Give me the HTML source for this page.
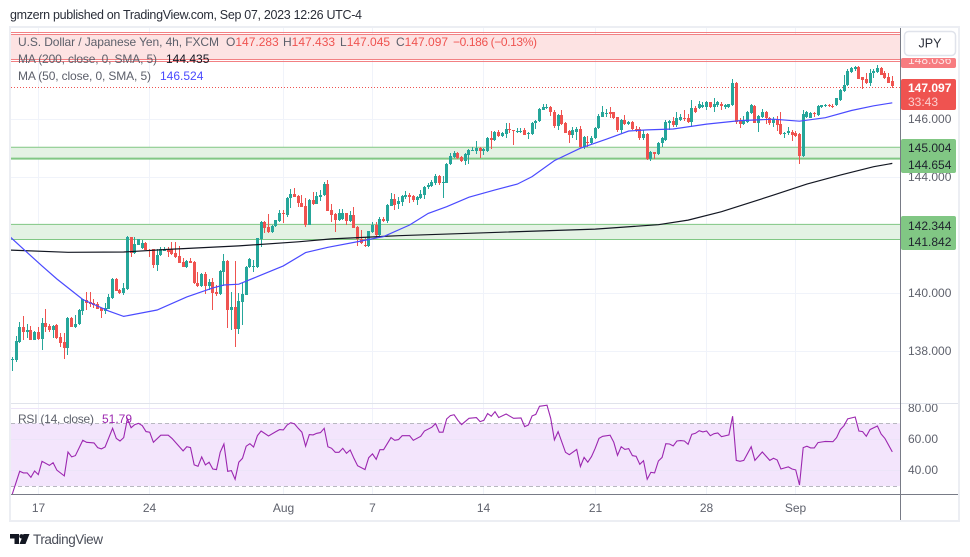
<!DOCTYPE html>
<html lang="en">
<head>
<meta charset="utf-8">
<title>USD/JPY 4h chart</title>
<style>
html,body{margin:0;padding:0;background:#fff;width:970px;height:557px;overflow:hidden}
svg{display:block;position:absolute;left:0;top:0}
text{font-family:"Liberation Sans",sans-serif}
.leg{font-size:12px;fill:#5d606b}
.axis{font-size:12px;fill:#5f626d}
.tag{font-size:12px;fill:#1e222d}
</style>
</head>
<body>
<svg id="chart" width="970" height="557" viewBox="0 0 970 557" xmlns="http://www.w3.org/2000/svg">
  <defs>
    <clipPath id="mainClip"><rect x="11" y="28" width="889" height="375"/></clipPath>
    <clipPath id="rsiClip"><rect x="11" y="404" width="889" height="90"/></clipPath>
    <clipPath id="axisClip"><rect x="901" y="28" width="58" height="375"/></clipPath>
    <clipPath id="rsiAxisClip"><rect x="901" y="404" width="58" height="90"/></clipPath>
    <clipPath id="tagClip"><rect x="901" y="59" width="58" height="10"/></clipPath>
  </defs>

  <text x="10" y="19" font-size="12.5" fill="#2a2e39" textLength="352" lengthAdjust="spacing">gmzern published on TradingView.com, Sep 07, 2023 12:26 UTC-4</text>

  <rect x="10" y="27" width="949" height="494" fill="#fff" stroke="#eceef3" stroke-width="2"/>

  <g id="grid"></g>
  <g id="zones" clip-path="url(#mainClip)"></g>
  <g id="candles" clip-path="url(#mainClip)"></g>
  <g id="mas" clip-path="url(#mainClip)"></g>
  <g id="rsi"></g>

  <line x1="11" x2="958" y1="403.5" y2="403.5" stroke="#e0e3eb" stroke-width="1"/>
  <line x1="11" x2="958" y1="494.5" y2="494.5" stroke="#787b86" stroke-width="1"/>
  <line x1="900.5" x2="900.5" y1="28" y2="520" stroke="#787b86" stroke-width="1"/>

  <g id="priceAxis" clip-path="url(#axisClip)"></g>
  <g id="rsiAxis" clip-path="url(#rsiAxisClip)"></g>
  <g id="timeAxis"></g>

  <g>
    <text class="leg" x="18" y="46" textLength="201" lengthAdjust="spacing">U.S. Dollar / Japanese Yen, 4h, FXCM</text>
    <text class="leg" x="226" y="46">O<tspan fill="#ef5350">147.283</tspan></text>
    <text class="leg" x="283" y="46">H<tspan fill="#ef5350">147.433</tspan></text>
    <text class="leg" x="340" y="46">L<tspan fill="#ef5350">147.045</tspan></text>
    <text class="leg" x="396" y="46">C<tspan fill="#ef5350">147.097</tspan></text>
    <text x="453" y="46" font-size="12" fill="#ef5350" textLength="84" lengthAdjust="spacing">−0.186 (−0.13%)</text>
    <text class="leg" x="18" y="63" textLength="139" lengthAdjust="spacing">MA (200, close, 0, SMA, 5)</text>
    <text x="166" y="63" font-size="12" fill="#131722">144.435</text>
    <text class="leg" x="18" y="80" textLength="133" lengthAdjust="spacing">MA (50, close, 0, SMA, 5)</text>
    <text x="160" y="80" font-size="12" fill="#4a4aff">146.524</text>
    <text class="leg" x="18" y="423" textLength="76" lengthAdjust="spacing">RSI (14, close)</text>
    <text x="102" y="423" font-size="12" fill="#9c27b0">51.79</text>
  </g>

  <g>
    <rect x="904.5" y="31.5" width="51" height="24" rx="4" fill="#fff" stroke="#e0e3eb" stroke-width="1.5"/>
    <text x="930" y="47.5" font-size="12.5" text-anchor="middle" fill="#2a2e39">JPY</text>
  </g>

  <g>
    <path d="M10 534h9v10h-4.500v-5.500H10zM19.500 544l4-10h6l-4 10z" fill="#131722"/>
    <circle cx="21.500" cy="536.300" r="2.200" fill="#131722"/>
    <text x="33" y="544" font-size="13.500" fill="#4a4e59" textLength="70" lengthAdjust="spacing">TradingView</text>
  </g>
</svg>

<script>
// ----- candle data (USD/JPY prices) -----
const opens = [
137.66,137.66,138.29,138.80,138.63,138.69,138.36,138.62,138.39,138.93,
138.84,138.69,138.87,138.45,138.28,138.08,139.10,138.79,138.88,139.36,
139.72,139.65,139.63,139.60,139.44,139.34,139.43,139.80,140.45,140.07,
139.95,140.10,141.89,141.34,141.63,141.53,141.70,141.45,141.47,140.93,
141.26,141.43,141.47,141.48,141.33,141.24,141.03,140.86,141.07,141.03,
140.32,140.21,140.62,140.21,140.35,140.00,139.92,140.70,141.08,139.38,
139.48,138.74,139.67,139.91,140.85,140.86,140.87,141.83,142.42,142.23,
142.06,142.26,142.45,142.71,142.66,143.23,143.38,143.30,143.06,142.96,
142.31,143.17,143.05,143.29,143.36,143.72,142.83,142.69,142.49,142.51,
142.72,142.46,142.66,142.23,141.83,141.62,141.57,142.07,142.32,141.97,
142.52,142.46,142.98,143.21,143.04,143.11,143.28,143.35,143.31,143.18,
143.25,143.35,143.61,143.66,143.76,144.00,143.76,143.77,144.40,144.65,
144.79,144.65,144.52,144.73,144.89,144.87,144.96,144.87,144.87,145.31,
145.24,145.53,145.38,145.45,145.62,145.59,145.53,145.53,145.57,145.44,
145.45,145.82,145.88,146.29,146.37,146.39,146.19,145.73,146.11,145.83,
145.54,145.42,145.53,145.62,144.99,145.16,145.13,145.30,145.64,146.05,
146.14,146.19,146.19,146.02,145.57,145.94,145.80,145.86,145.62,145.62,
145.30,145.45,144.58,144.83,144.75,145.15,145.24,145.84,145.90,145.75,
145.93,146.01,146.00,145.87,146.34,146.34,146.39,146.37,146.54,146.39,
146.44,146.50,146.37,146.39,146.45,147.22,145.90,145.79,145.87,146.16,
146.43,145.84,146.02,146.22,146.01,145.82,145.97,145.81,145.45,145.47,
145.53,145.47,145.45,144.69,146.05,146.01,146.16,146.10,146.39,146.41,
146.45,146.43,146.45,146.62,146.94,147.14,147.60,147.69,147.75,147.40,
147.33,147.20,147.54,147.60,147.73,147.54,147.40,147.283];

const highs = [
137.75,138.49,138.95,139.17,138.90,138.83,138.67,138.78,139.10,139.41,
138.90,138.87,138.90,138.58,138.58,139.15,139.15,139.21,139.40,139.77,
139.99,140.00,139.77,139.67,139.44,139.61,139.92,140.48,140.48,140.12,
140.30,141.92,141.91,141.91,141.84,141.80,141.74,141.48,141.50,141.50,
141.56,141.56,141.54,141.72,141.74,141.59,141.16,141.10,141.16,141.06,
140.70,140.64,140.70,140.46,140.48,140.24,140.76,141.31,141.10,140.00,
141.08,139.98,140.30,140.88,141.18,141.10,141.87,142.45,142.46,142.69,
142.31,142.50,142.83,142.83,143.29,143.55,143.58,143.35,143.35,143.23,
143.20,143.46,143.46,143.52,143.80,143.86,143.04,142.74,142.85,142.85,
142.74,142.81,142.92,142.26,142.14,141.91,142.12,142.40,142.43,142.58,
142.57,143.03,143.41,143.38,143.27,143.35,143.49,143.40,143.35,143.31,
143.52,143.64,143.76,143.87,144.07,144.04,144.00,144.44,144.81,144.87,
144.82,144.69,144.81,144.92,144.99,145.20,144.99,144.97,145.35,145.55,
145.55,145.57,145.53,145.83,145.82,145.59,145.67,145.67,145.67,145.53,
145.86,145.93,146.34,146.50,146.49,146.43,146.26,146.14,146.26,145.85,
145.57,145.68,145.70,145.73,145.38,145.38,145.38,145.70,146.14,146.40,
146.30,146.37,146.22,146.05,145.96,146.11,145.89,145.89,145.73,145.70,
145.59,145.47,144.87,144.83,145.18,145.36,145.93,145.93,146.02,146.22,
146.14,146.27,146.14,146.62,146.41,146.59,146.56,146.59,146.56,146.70,
146.58,146.56,146.48,146.50,147.36,147.25,145.99,146.07,146.24,146.50,
146.45,146.10,146.30,146.24,146.05,146.02,146.07,146.22,145.53,145.68,
145.59,145.56,145.47,146.28,146.25,146.21,146.22,146.44,146.46,146.48,
146.47,146.50,146.70,146.99,147.48,147.68,147.77,147.80,147.80,147.42,
147.56,147.68,147.68,147.83,147.77,147.63,147.56,147.433];

const lows = [
137.26,137.60,138.23,138.35,138.40,138.35,138.35,138.35,138.00,138.63,
138.63,138.40,138.38,138.12,137.70,137.83,138.78,138.77,138.87,139.21,
139.38,139.47,139.44,139.40,139.12,139.24,139.40,139.75,140.02,139.92,
139.90,140.07,141.22,141.31,141.61,141.50,141.44,141.22,140.84,140.74,
141.24,141.40,141.22,141.28,141.16,141.00,140.85,140.84,141.00,140.28,
140.16,140.18,139.93,140.07,139.38,139.86,139.90,140.20,138.75,138.69,
138.09,138.55,138.86,139.90,140.82,140.69,140.84,141.56,142.02,142.02,
142.02,142.23,142.42,142.39,142.60,142.89,143.29,142.94,142.92,142.23,
142.30,143.01,143.03,143.15,143.30,142.78,142.43,142.08,142.46,142.49,
142.32,142.43,142.20,141.57,141.66,141.54,141.54,142.03,141.85,141.85,
142.43,142.37,142.96,142.83,142.85,142.97,143.22,143.08,143.12,143.00,
143.22,143.20,143.54,143.61,143.70,143.70,143.24,143.75,144.37,144.62,
144.59,144.50,144.39,144.42,144.87,144.76,144.62,144.73,144.84,144.92,
145.22,145.36,145.33,145.30,145.47,145.07,145.47,145.47,145.41,145.28,
145.43,145.61,145.85,146.26,146.31,146.07,145.65,145.59,145.77,145.47,
145.13,145.30,145.24,144.96,144.92,144.99,145.09,145.28,145.61,146.02,
146.05,145.99,145.96,145.53,145.50,145.76,145.77,145.59,145.53,145.25,
145.25,144.55,144.52,144.59,144.73,145.00,145.22,145.58,145.70,145.70,
145.90,145.90,145.84,145.70,146.18,146.31,146.36,146.28,146.33,146.22,
146.39,146.28,146.30,146.33,146.42,145.81,145.64,145.76,145.82,146.14,
145.82,145.53,145.99,145.80,145.76,145.70,145.56,145.41,145.30,145.41,
145.20,145.36,144.41,144.67,146.01,145.99,146.05,146.08,146.35,146.39,
146.39,146.34,146.42,146.60,146.91,147.11,147.56,147.63,147.33,147.00,
147.16,147.12,147.37,147.54,147.47,147.33,147.20,147.045];

const closes = [
137.69,138.31,138.80,138.62,138.69,138.36,138.62,138.39,138.93,138.80,
138.69,138.83,138.43,138.25,138.08,139.12,138.80,138.88,139.38,139.75,
139.61,139.60,139.55,139.43,139.36,139.44,139.83,140.46,140.05,139.96,
140.14,141.90,141.34,141.66,141.82,141.70,141.45,141.44,140.93,141.27,
141.47,141.47,141.39,141.30,141.20,141.01,140.86,141.06,141.01,140.32,
140.21,140.62,140.21,140.35,139.98,139.93,140.73,141.07,139.38,139.48,
138.74,139.69,139.93,140.86,141.15,140.90,141.85,142.43,142.22,142.08,
142.28,142.47,142.71,142.68,143.23,143.38,143.29,143.06,142.94,142.31,
143.17,143.03,143.31,143.36,143.72,142.80,142.66,142.49,142.72,142.72,
142.46,142.66,142.22,141.83,141.68,141.57,142.10,142.32,141.97,142.51,
142.46,143.00,143.20,143.00,143.13,143.31,143.35,143.29,143.17,143.29,
143.38,143.61,143.70,143.81,144.00,143.75,143.79,144.42,144.70,144.79,
144.61,144.52,144.75,144.90,144.90,144.98,144.87,144.92,145.32,145.24,
145.53,145.38,145.50,145.62,145.57,145.54,145.56,145.55,145.41,145.50,
145.84,145.91,146.31,146.39,146.39,146.19,145.73,146.11,145.80,145.50,
145.42,145.57,145.62,144.99,145.36,145.13,145.32,145.67,146.07,146.19,
146.17,146.14,145.99,145.57,145.94,145.80,145.86,145.61,145.58,145.30,
145.45,144.58,144.84,144.75,145.15,145.30,145.86,145.90,145.75,145.99,
146.05,145.95,145.87,146.34,146.22,146.48,146.46,146.54,146.37,146.50,
146.54,146.41,146.45,146.48,147.22,145.87,145.81,145.90,146.22,146.44,
145.84,146.07,146.22,145.99,145.84,145.95,145.76,145.45,145.50,145.55,
145.43,145.39,144.69,146.14,146.22,146.16,146.13,146.41,146.44,146.45,
146.41,146.37,146.68,146.96,147.14,147.63,147.71,147.75,147.35,147.31,
147.20,147.56,147.63,147.73,147.50,147.37,147.22,147.097];

// ----- moving averages, sampled at bar numbers -----
const ma50Bars = [-1,3,8,12,19,26,30,39,47,54,57,61,66,73,79,85,94,100,107,112,117,123,130,136,140,146,153,160,166,171,178,187,196,205,212,219,226,232,237];
const ma50Values = [141.95,141.48,140.90,140.45,139.74,139.34,139.16,139.38,139.83,140.14,140.24,140.27,140.53,140.90,141.36,141.54,141.76,141.91,142.31,142.71,142.94,143.27,143.52,143.72,143.98,144.53,144.96,145.27,145.55,145.59,145.62,145.79,145.91,145.96,145.89,146.01,146.26,146.42,146.524];
const ma200Bars = [-1,15,30,42,61,77,86,104,131,157,174,182,191,205,214,223,232,237];
const ma200Values = [141.45,141.37,141.38,141.47,141.59,141.73,141.83,141.94,142.06,142.17,142.32,142.48,142.77,143.34,143.72,144.03,144.32,144.435];

// ----- RSI, sampled at bar numbers -----
const rsiBars = [0,2,3,4,5,6,7,8,10,11,12,14,15,16,17,19,20,22,23,24,25,27,28,29,30,31,32,33,34,35,36,37,38,40,42,43,46,47,48,49,50,51,52,53,54,55,56,57,58,59,60,61,62,63,64,65,66,67,69,71,72,73,74,75,76,77,78,79,80,81,82,83,84,85,86,87,88,89,90,91,92,93,95,96,97,98,99,100,102,103,104,105,107,108,110,111,113,114,115,116,117,118,119,120,121,123,125,126,127,128,129,130,131,133,135,137,138,139,140,141,142,144,145,146,147,149,150,152,153,154,155,156,157,158,159,161,162,163,164,165,166,167,168,169,170,171,172,173,174,175,176,177,178,179,180,181,182,183,184,185,186,187,188,189,190,191,193,194,195,196,197,199,200,202,204,205,206,207,209,210,211,212,213,214,215,216,217,218,219,221,222,223,224,225,227,228,229,230,231,233,234,235,237];
const rsiValues = [25.0,39.4,38.4,38.4,35.6,39.6,37.3,45.8,43.2,44.9,40.1,36.5,51.7,48.6,49.4,59.2,57.9,57.5,54.5,53.7,54.9,66.8,60.4,58.7,60.9,72.8,67.2,69.2,70.0,68.5,64.7,64.3,57.9,62.4,62.4,60.4,52.4,55.1,54.5,43.5,42.6,48.6,43.5,45.2,40.9,40.5,51.5,56.8,39.4,39.9,34.3,45.2,47.7,55.4,57.0,54.9,62.1,65.1,61.9,64.7,66.0,65.8,68.9,70.4,69.6,66.8,64.3,55.4,62.8,62.6,63.6,64.1,66.8,55.1,54.1,51.5,51.5,54.1,50.9,53.0,47.7,43.0,40.5,48.1,50.5,47.1,53.2,53.2,60.9,59.2,59.6,62.1,62.1,59.2,61.7,65.1,67.5,69.8,64.3,64.3,72.8,74.9,75.5,71.9,69.2,73.2,73.6,71.1,71.9,76.2,74.5,77.4,73.6,75.9,73.2,73.4,67.9,68.9,74.7,75.7,80.8,81.5,73.2,59.4,64.7,51.5,50.0,53.4,42.4,48.3,45.2,48.8,54.1,60.4,61.7,62.4,57.9,49.6,55.1,53.4,53.9,49.4,49.0,43.9,46.2,34.3,38.8,38.4,46.0,48.3,57.0,56.8,55.6,58.7,59.0,58.7,56.6,63.0,63.6,65.3,64.5,65.1,62.1,63.4,63.8,61.5,62.6,74.5,46.4,45.8,46.4,55.1,46.4,51.7,46.4,47.7,46.6,40.9,42.2,40.9,40.3,30.7,54.5,55.4,54.3,54.3,57.7,58.1,58.5,58.3,60.9,66.0,68.5,72.8,74.0,65.1,64.7,61.7,66.0,68.3,63.2,60.4,51.79];

// ----- axis tick labels -----
const timeTickBars = [7,37,73,97,127,157,187,211];
const timeTickLabels = ["17","24","Aug","7","14","21","28","Sep"];
const priceTicks = [146,144,142,140,138];
const priceTickLabels = ["146.000","144.000","142.000","140.000","138.000"];
const rsiTicks = [80,60,40];
const rsiTickLabels = ["80.00","60.00","40.00"];
const lastClose = 147.097;

// ----- horizontal zones: [upper, lower] price levels -----
const redZone = [148.88,148.017];
const greenZones = [[144.99,144.60],[142.33,141.81]];

const NS = 'http://www.w3.org/2000/svg';
const GREEN = '#26a69a', RED = '#ef5350';

// axis functions
function xOf(bar){ return 12.3 + bar * 3.713; }
function yOf(price){ return 118 + (146 - price) * 29; }
function yRsi(v){ return 423.3 + (70 - v) * 1.57; }

function mk(tag, attrs, parent){
  const el = document.createElementNS(NS, tag);
  for (const k in attrs) el.setAttribute(k, attrs[k]);
  parent.appendChild(el);
  return el;
}

// grid
const gridG = document.getElementById('grid');
timeTickBars.forEach(function(b){
  const px = Math.floor(xOf(b)) + 0.5;
  const v = mk('line', {x1:px, x2:px, y1:28, y2:494, stroke:'#f0f3fa'}, gridG);
  
  
});
priceTicks.forEach(function(p){
  const py = Math.round(yOf(p)) + 1.5;
  const h = mk('line', {x1:11, x2:900, y1:py, y2:py, stroke:'#f0f3fa'}, gridG);
  
  
});

// zones
const zonesG = document.getElementById('zones');
const redTop = yOf(redZone[0]), redBot = yOf(redZone[1]);
const redFill = mk('rect', {x:11, y:redTop, width:889, height:redBot-redTop, fill:'#fde3e3'}, zonesG);


[redTop-2, redTop, redBot, redBot+2].forEach(function(y0){
  const l = mk('line', {x1:11, x2:900, y1:y0, y2:y0, stroke:'#f28083', 'stroke-width':1}, zonesG);
  
  
});
const dotted = mk('line', {x1:11, x2:900, y1:87.5, y2:87.5, stroke:RED, 'stroke-width':1, 'stroke-dasharray':'1 2'}, zonesG);


greenZones.forEach(function(z, i){
  const t = yOf(z[0]), b = yOf(z[1]);
  const f = mk('rect', {x:11, y:t, width:889, height:b-t, fill:'#e4f2e4'}, zonesG);
  
  
  const a = mk('line', {x1:11, x2:900, y1:t, y2:t, stroke:'#81c784', 'stroke-width':1}, zonesG);
  
  
  const c = mk('line', {x1:11, x2:900, y1:b, y2:b, stroke:'#81c784', 'stroke-width':i === 0 ? 2 : 1}, zonesG);
  
  
});

// candles
const candlesG = document.getElementById('candles');
closes.forEach(function(c, i){
  const o = opens[i], color = c >= o ? GREEN : RED;
  const px = Math.floor(xOf(i));
  const g = mk('g', {fill:color}, candlesG);
  
  
  const wt = Math.round(yOf(highs[i])), wb = Math.round(yOf(lows[i]));
  mk('rect', {x:px, y:wt, width:1, height:Math.max(1, wb-wt)}, g);
  const bt = Math.round(yOf(Math.max(o, c))), bb = Math.round(yOf(Math.min(o, c)));
  mk('rect', {x:px-1, y:bt, width:3, height:Math.max(1, bb-bt)}, g);
});

// moving averages
function seriesPoints(bars, vals, yFn){
  return bars.map(function(b, i){ return xOf(b).toFixed(1) + ',' + yFn(vals[i]).toFixed(1); }).join(' ');
}
const masG = document.getElementById('mas');
const ma200Line = mk('polyline', {points:seriesPoints(ma200Bars, ma200Values, yOf), fill:'none', stroke:'#131722', 'stroke-width':1.2}, masG);


const ma50Line = mk('polyline', {points:seriesPoints(ma50Bars, ma50Values, yOf), fill:'none', stroke:'#4a4aff', 'stroke-width':1.2}, masG);



// RSI pane
const rsiG = document.getElementById('rsi');
const rsiBand = mk('rect', {x:11, y:yRsi(70), width:889, height:yRsi(30)-yRsi(70), fill:'#f3e5fc'}, rsiG);


rsiTicks.forEach(function(v){
  const y0 = Math.round(yRsi(v)) + 0.5;
  const l = mk('line', {x1:11, x2:900, y1:y0, y2:y0, stroke:'#ece4f8'}, rsiG);
  
  
});
[70, 30].forEach(function(v){
  const y0 = Math.round(yRsi(v)) + 0.5;
  const l = mk('line', {x1:11, x2:900, y1:y0, y2:y0, stroke:'#b8b8c0', 'stroke-dasharray':'4 3'}, rsiG);
  
  
});
const rsiLine = mk('polyline', {points:seriesPoints(rsiBars, rsiValues, yRsi), fill:'none', stroke:'#9c27b0', 'stroke-width':1.1, 'clip-path':'url(#rsiClip)'}, rsiG);



// price axis labels
const pa = document.getElementById('priceAxis');
priceTicks.forEach(function(p, i){
  const t = mk('text', {x:908, y:Math.round(yOf(p)) + 5, class:'axis'}, pa);
  
  
  t.textContent = priceTickLabels[i];
});

function tag(x0, y0, w, h, fill, name){
  const r = mk('rect', {x:x0, y:y0, width:w, height:h, rx:2, fill:fill}, pa);
  
  
}
function tagText(txt, y0, fill, weight, name){
  const t = mk('text', {x:908, y:y0, 'font-size':12, fill:fill, 'font-weight':weight}, pa);
  
  
  return t.textContent = txt, t;
}
tag(901, 58, 55, 10, '#f77c80', 'zone-price-tag');
tagText('148.036', 64, '#fde3e3', 'normal', 'zone-price-text').setAttribute('clip-path', 'url(#tagClip)');
tag(901, 79, 55, 31, RED, 'last-price-tag');
tagText(lastClose.toFixed(3), 92, '#ffffff', 'bold', 'last-price-text');
tagText('33:43', 106, '#fbd0d0', 'normal', 'countdown-text');
tag(901, 139, 55, 34, '#81c784', 'upper-zone-tag');
tagText('145.004', 152, '#1e222d', 'normal', 'zone-top-text');
tagText('144.654', 169, '#1e222d', 'normal', 'zone-bottom-text');
tag(901, 216, 55, 34, '#81c784', 'lower-zone-tag');
tagText('142.344', 230, '#1e222d', 'normal', 'zone-top-text');
tagText('141.842', 246, '#1e222d', 'normal', 'zone-bottom-text');

// rsi axis labels
const ra = document.getElementById('rsiAxis');
rsiTicks.forEach(function(v, i){
  const t = mk('text', {x:908, y:Math.round(yRsi(v)) + 4, class:'axis'}, ra);
  
  
  t.textContent = rsiTickLabels[i];
});

// time axis labels
const ta = document.getElementById('timeAxis');
timeTickBars.forEach(function(b, i){
  const t = mk('text', {x:Math.floor(xOf(b)) + 0.5, y:512, 'text-anchor':'middle', class:'axis'}, ta);
  
  
  t.textContent = timeTickLabels[i];
});
</script>
</body>
</html>
